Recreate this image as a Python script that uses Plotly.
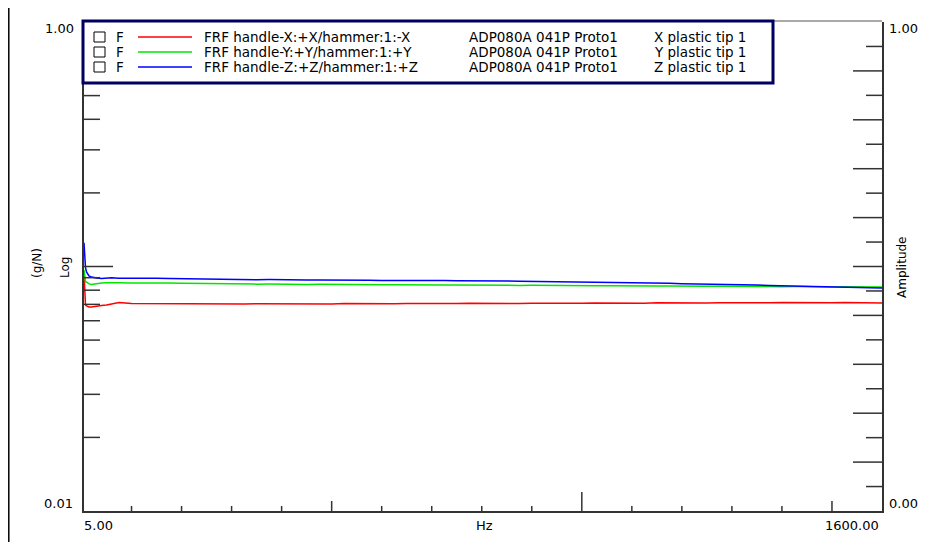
import plotly.graph_objects as go

# ---------------- data ----------------
freq_hz = [5, 6, 7, 8, 10, 12, 15, 20, 25, 30, 40, 50, 60, 75,
           100, 125, 150, 175, 200, 225, 250, 275, 300, 325, 350, 375, 400,
           425, 450, 475, 500, 525, 550, 575, 600, 625, 650, 675, 700, 725,
           750, 775, 800, 825, 850, 875, 900, 925, 950, 975, 1000, 1025, 1050,
           1075, 1100, 1125, 1150, 1175, 1200, 1225, 1250, 1275, 1300, 1325,
           1350, 1375, 1400, 1425, 1450, 1475, 1500, 1525, 1550, 1575, 1600]

frf_x = [0.0940, 0.0780, 0.0720, 0.0696, 0.0690, 0.0686, 0.0683, 0.0683, 0.0686, 0.0690, 0.0693, 0.0696, 0.0703, 0.0712,
         0.0706, 0.0705, 0.0704, 0.0703, 0.0704, 0.0703, 0.0702, 0.0704, 0.0703, 0.0702, 0.0704, 0.0703, 0.0704,
         0.0703, 0.0705, 0.0704, 0.0703, 0.0705, 0.0704, 0.0706, 0.0705, 0.0704, 0.0706, 0.0705, 0.0707, 0.0706,
         0.0705, 0.0707, 0.0706, 0.0708, 0.0707, 0.0706, 0.0708, 0.0707, 0.0709, 0.0708, 0.0707, 0.0709, 0.0708,
         0.0710, 0.0709, 0.0708, 0.0710, 0.0709, 0.0711, 0.0710, 0.0709, 0.0711, 0.0710, 0.0712, 0.0711,
         0.0710, 0.0712, 0.0711, 0.0713, 0.0712, 0.0711, 0.0713, 0.0712, 0.0711, 0.0709]

frf_y = [0.0970, 0.0920, 0.0880, 0.0865, 0.0865, 0.0857, 0.0849, 0.0845, 0.0849, 0.0853, 0.0857, 0.0859, 0.0857, 0.0859,
         0.0857, 0.0859, 0.0855, 0.0857, 0.0855, 0.0853, 0.0851, 0.0852, 0.0849, 0.0850, 0.0847, 0.0848, 0.0846,
         0.0847, 0.0845, 0.0846, 0.0844, 0.0845, 0.0843, 0.0844, 0.0842, 0.0843, 0.0841, 0.0842, 0.0841, 0.0840,
         0.0841, 0.0839, 0.0840, 0.0838, 0.0839, 0.0837, 0.0838, 0.0836, 0.0837, 0.0835, 0.0836, 0.0834, 0.0835,
         0.0833, 0.0834, 0.0833, 0.0832, 0.0833, 0.0831, 0.0832, 0.0830, 0.0831, 0.0829, 0.0830,
         0.0828, 0.0829, 0.0827, 0.0828, 0.0826, 0.0827, 0.0825, 0.0826, 0.0824, 0.0825, 0.0824]

frf_z = [0.1250, 0.1160, 0.1060, 0.0990, 0.0950, 0.0930, 0.0915, 0.0905, 0.0899, 0.0897, 0.0893, 0.0897, 0.0899, 0.0895,
         0.0897, 0.0899, 0.0895, 0.0893, 0.0891, 0.0889, 0.0889, 0.0887, 0.0885, 0.0886, 0.0883, 0.0884, 0.0881,
         0.0883, 0.0881, 0.0880, 0.0881, 0.0879, 0.0881, 0.0878, 0.0877, 0.0878, 0.0876, 0.0877, 0.0875, 0.0876,
         0.0874, 0.0875, 0.0873, 0.0874, 0.0872, 0.0871, 0.0870, 0.0869, 0.0868, 0.0866, 0.0866, 0.0864, 0.0863,
         0.0859, 0.0857, 0.0858, 0.0855, 0.0854, 0.0851, 0.0850, 0.0848, 0.0847, 0.0844, 0.0842,
         0.0840, 0.0837, 0.0834, 0.0831, 0.0829, 0.0827, 0.0825, 0.0822, 0.0820, 0.0818, 0.0817]

series_values = [frf_x, frf_y, frf_z]
series_colors = ["#ff0000", "#00e600", "#0000ff"]
series_names = ["FRF handle-X:+X/hammer:1:-X",
                "FRF handle-Y:+Y/hammer:1:+Y",
                "FRF handle-Z:+Z/hammer:1:+Z"]
series_desc = ["ADP080A 041P Proto1", "ADP080A 041P Proto1", "ADP080A 041P Proto1"]
series_tip = ["X plastic tip 1", "Y plastic tip 1", "Z plastic tip 1"]

# axis ticks
left_major_ticks = [0.1]
left_minor_ticks = [0.02, 0.03, 0.04, 0.05, 0.06, 0.07, 0.08, 0.09,
                    0.2, 0.3, 0.4, 0.5, 0.6, 0.7, 0.8, 0.9]
right_ticks = [0.05, 0.10, 0.15, 0.20, 0.25, 0.30, 0.35, 0.40, 0.45, 0.50,
               0.55, 0.60, 0.65, 0.70, 0.75, 0.80, 0.85, 0.90, 0.95]
bottom_minor_ticks = [100, 200, 300, 400, 600, 700, 800, 900, 1100, 1200, 1300, 1400]
bottom_mid_ticks = [500, 1500]
bottom_major_ticks = [1000]

# ---------------- layout geometry (page pixels) ----------------
PAGE_W, PAGE_H = 950, 542
OFF = 8                      # default body margin of the html page
FIG_W, FIG_H = PAGE_W - OFF, PAGE_H - OFF
L, R, T, B = 84, 882, 22, 511   # plot area in page pixels


def px(x):
    return (x - L) / (R - L)


def py(y):
    return (B - y) / (B - T)


FONT = "DejaVu Sans"
AX = "#333333"

fig = go.Figure()
for vals, col, name in zip(series_values, series_colors, series_names):
    fig.add_trace(go.Scatter(x=freq_hz, y=vals, mode="lines", name=name,
                             line=dict(color=col, width=1.5), showlegend=False))
# invisible trace so the right (linear) axis exists
fig.add_trace(go.Scatter(x=[freq_hz[0]], y=[0.5], yaxis="y2", mode="lines",
                         line=dict(width=0), showlegend=False, hoverinfo="skip"))

shapes = []
# left ticks (inside)
for v in left_major_ticks:
    shapes.append(dict(type="line", xref="paper", yref="y", xsizemode="pixel", xanchor=0,
                       x0=0, x1=29, y0=v, y1=v, line=dict(color=AX, width=1.5)))
for v in left_minor_ticks:
    shapes.append(dict(type="line", xref="paper", yref="y", xsizemode="pixel", xanchor=0,
                       x0=0, x1=16, y0=v, y1=v, line=dict(color=AX, width=1.5)))
# right ticks (inside)
for i, v in enumerate(right_ticks):
    ln = 29 if i % 2 == 1 else 16
    shapes.append(dict(type="line", xref="paper", yref="y2", xsizemode="pixel", xanchor=1,
                       x0=-ln, x1=0, y0=v, y1=v, line=dict(color=AX, width=1.5)))
# bottom ticks (inside)
for lst, ln in ((bottom_minor_ticks, 5), (bottom_mid_ticks, 10), (bottom_major_ticks, 19)):
    for v in lst:
        shapes.append(dict(type="line", xref="x", yref="paper", ysizemode="pixel", yanchor=0,
                           x0=v, x1=v, y0=0, y1=ln, line=dict(color=AX, width=1.5)))
# top frame line
shapes.append(dict(type="line", xref="paper", yref="paper", x0=0, x1=1, y0=py(21), y1=py(21),
                   line=dict(color="#555555", width=1)))
# outer left border line
shapes.append(dict(type="line", xref="paper", yref="paper", x0=px(8.8), x1=px(8.8),
                   y0=py(PAGE_H), y1=py(OFF), line=dict(color="#000000", width=1.5)))
# legend box
shapes.append(dict(type="rect", xref="paper", yref="paper", x0=px(83), x1=px(773),
                   y0=py(83), y1=py(21), fillcolor="white",
                   line=dict(color="#000060", width=3), layer="above"))

annotations = []
row_y = [37, 52, 67]
for ry, col, name, desc, tip in zip(row_y, series_colors, series_names, series_desc, series_tip):
    shapes.append(dict(type="rect", xref="paper", yref="paper", x0=px(94), x1=px(105),
                       y0=py(ry + 5), y1=py(ry - 5), line=dict(color="#000000", width=1),
                       fillcolor="white", layer="above"))
    shapes.append(dict(type="line", xref="paper", yref="paper", x0=px(138), x1=px(192),
                       y0=py(ry), y1=py(ry), line=dict(color=col, width=1.5), layer="above"))
    for xx, txt in ((114, "F"), (202, name), (467, desc), (652, tip)):
        annotations.append(dict(xref="paper", yref="paper", x=px(xx), y=py(ry), text=txt,
                                showarrow=False, xanchor="left", yanchor="middle",
                                font=dict(family=FONT, size=13.5, color="#000000")))

lab = dict(family=FONT, size=13, color="#000000")
tick_labels = [
    dict(x=px(76), y=py(29), text="1.00", xanchor="right"),
    dict(x=px(75), y=py(503), text="0.01", xanchor="right"),
    dict(x=px(887), y=py(29), text="1.00", xanchor="left"),
    dict(x=px(887), y=py(503), text="0.00", xanchor="left"),
    dict(x=px(82), y=py(525), text="5.00", xanchor="left"),
    dict(x=px(881), y=py(525), text="1600.00", xanchor="right"),
    dict(x=px(484), y=py(525), text="Hz", xanchor="center"),
]
for a in tick_labels:
    a.update(xref="paper", yref="paper", yanchor="middle", showarrow=False, font=lab)
    annotations.append(a)
for xx, yy, txt in ((37, 263, "(g/N)"), (65, 268, "Log"), (902, 267, "Amplitude")):
    annotations.append(dict(xref="paper", yref="paper", x=px(xx), y=py(yy), text=txt, textangle=-90,
                            showarrow=False, xanchor="center", yanchor="middle",
                            font=dict(family=FONT, size=12, color="#000")))

fig.update_layout(
    width=FIG_W, height=FIG_H,
    margin=dict(l=L - OFF, r=PAGE_W - R, t=T - OFF, b=PAGE_H - B, pad=0),
    paper_bgcolor="white", plot_bgcolor="white",
    showlegend=False,
    xaxis=dict(range=[5, 1600], showgrid=False, zeroline=False, showticklabels=False, ticks="",
               showline=True, linecolor=AX, linewidth=2),
    yaxis=dict(type="log", range=[-2, 0], showgrid=False, zeroline=False, showticklabels=False,
               ticks="", showline=True, linecolor=AX, linewidth=2, mirror=True),
    yaxis2=dict(range=[0, 1], overlaying="y", side="right", showgrid=False, zeroline=False,
                showticklabels=False, ticks="", showline=False),
    shapes=shapes,
    annotations=annotations,
    font=dict(family=FONT),
)

fig.write_html("out.html")
